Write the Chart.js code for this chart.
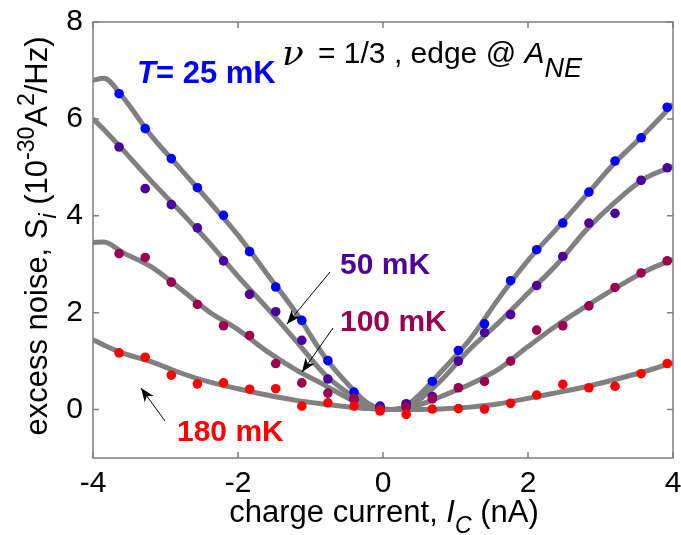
<!DOCTYPE html>
<html>
<head>
<meta charset="utf-8">
<script src="https://cdn.jsdelivr.net/npm/chart.js@4.4.1/dist/chart.umd.min.js"></script>
<style>
  html, body { margin: 0; padding: 0; background: #fff; }
</style>
</head>
<body>
<canvas id="myChart" width="681" height="535"></canvas>
<script>
// tick labels
const xTicks = [-4, -2, 0, 2, 4];
const yTicks = [0, 2, 4, 6, 8];

// measured points (charge current, nA)
const dataX = [-3.64, -3.28, -2.92, -2.56, -2.20, -1.84, -1.48, -1.12, -0.76, -0.40, -0.04,
  0.32, 0.68, 1.04, 1.40, 1.76, 2.12, 2.48, 2.84, 3.20, 3.56, 3.92];
const noise25 = [6.52, 5.80, 5.18, 4.58, 4.01, 3.26, 2.53, 1.84, 1.01, 0.36, 0.07,
  0.10, 0.58, 1.22, 1.77, 2.66, 3.30, 3.85, 4.49, 5.13, 5.61, 6.24];
const noise50 = [5.42, 4.56, 4.23, 3.75, 3.07, 2.38, 2.02, 1.43, 0.63, 0.21, 0.03,
  0.12, 0.27, 1.00, 1.59, 1.96, 2.56, 3.16, 3.85, 4.05, 4.73, 4.99];
const noise100 = [3.22, 3.14, 2.63, 2.17, 1.73, 1.53, 0.95, 0.55, 0.34, 0.23, 0.02,
  0.05, 0.22, 0.45, 0.58, 1.00, 1.64, 1.73, 2.14, 2.52, 2.82, 3.07];
const noise180 = [1.17, 1.08, 0.71, 0.53, 0.55, 0.42, 0.43, 0.07, 0.14, 0.07, -0.03,
  -0.10, 0.01, 0.02, 0.01, 0.13, 0.30, 0.52, 0.45, 0.48, 0.74, 0.95];

// fitted curves (grey lines)
const fitX = [-4, -3.85, -3.6, -3.2, -2.8, -2.4, -2.0, -1.6, -1.2, -0.8, -0.5, -0.2,
  0.1, 0.3, 0.5, 0.8, 1.2, 1.6, 2.0, 2.4, 2.8, 3.2, 3.6, 4.0];
const fit25 = [6.80, 6.84, 6.47, 5.66, 4.98, 4.30, 3.60, 2.80, 2.00, 1.08, 0.55, 0.12,
  0.0, 0.06, 0.30, 0.78, 1.45, 2.30, 3.08, 3.74, 4.42, 5.10, 5.68, 6.30];
const fit50 = [6.00, 5.78, 5.38, 4.72, 4.10, 3.45, 2.75, 2.10, 1.42, 0.72, 0.36, 0.08,
  0.0, 0.04, 0.20, 0.60, 1.25, 1.80, 2.40, 3.00, 3.70, 4.28, 4.76, 5.02];
const fit100 = [3.45, 3.46, 3.25, 2.95, 2.50, 2.02, 1.65, 1.20, 0.82, 0.50, 0.25, 0.04,
  0.0, 0.03, 0.10, 0.27, 0.52, 0.84, 1.30, 1.74, 2.13, 2.50, 2.84, 3.10];
const fit180 = [1.44, 1.33, 1.17, 0.99, 0.76, 0.57, 0.43, 0.30, 0.19, 0.11, 0.06, 0.02,
  0.0, 0.0, 0.0, 0.01, 0.05, 0.12, 0.23, 0.35, 0.47, 0.62, 0.78, 0.97];

const FONT = "'Liberation Sans', Arial, sans-serif";
const BLUE = '#0000ff', PURPLE = '#4d0099', MAROON = '#99004d', RED = '#ff0000';

function pts(xs, ys) {
  return xs.map((v, i) => ({ x: v, y: ys[i] }));
}

function fitSet(ys) {
  return {
    type: 'line', data: pts(fitX, ys), borderColor: '#808080', borderWidth: 5,
    pointRadius: 0, cubicInterpolationMode: 'monotone', fill: false, order: 10
  };
}

function dotSet(ys, color, order) {
  return {
    type: 'scatter', data: pts(dataX, ys), backgroundColor: color, borderWidth: 0,
    pointRadius: 4.8, order: order
  };
}

// draws a row of text pieces one after another
function textRun(ctx, x, y, parts) {
  parts.forEach(p => {
    ctx.font = p.font;
    ctx.fillStyle = p.color || '#000';
    ctx.fillText(p.t, x, y + (p.dy || 0));
    x += ctx.measureText(p.t).width;
  });
}

function runWidth(ctx, parts) {
  let w = 0;
  parts.forEach(p => { ctx.font = p.font; w += ctx.measureText(p.t).width; });
  return w;
}

function arrow(ctx, x1, y1, x2, y2) {
  const ang = Math.atan2(y2 - y1, x2 - x1);
  ctx.strokeStyle = '#000';
  ctx.fillStyle = '#000';
  ctx.lineWidth = 1;
  ctx.beginPath();
  ctx.moveTo(x1, y1);
  ctx.lineTo(x2, y2);
  ctx.stroke();
  ctx.save();
  ctx.translate(x2, y2);
  ctx.rotate(ang);
  ctx.beginPath();
  ctx.moveTo(0, 0);
  ctx.lineTo(-14, -5.5);
  ctx.lineTo(-10, 0);
  ctx.lineTo(-14, 5.5);
  ctx.closePath();
  ctx.fill();
  ctx.restore();
}

const framePlugin = {
  id: 'frame',
  beforeDatasetsDraw(chart) {
    const { ctx, chartArea: a, scales: { x, y } } = chart;
    ctx.save();
    ctx.strokeStyle = '#7f7f7f';
    ctx.lineWidth = 1.5;
    ctx.strokeRect(a.left, a.top, a.right - a.left, a.bottom - a.top);
    ctx.beginPath();
    xTicks.forEach(v => {
      const px = x.getPixelForValue(v);
      ctx.moveTo(px, a.bottom); ctx.lineTo(px, a.bottom - 6);
      ctx.moveTo(px, a.top); ctx.lineTo(px, a.top + 6);
    });
    yTicks.forEach(v => {
      const py = y.getPixelForValue(v);
      ctx.moveTo(a.left, py); ctx.lineTo(a.left + 6, py);
      ctx.moveTo(a.right, py); ctx.lineTo(a.right - 6, py);
    });
    ctx.stroke();
    ctx.restore();
  },
  afterDraw(chart) {
    const ctx = chart.ctx;
    ctx.save();
    ctx.textBaseline = 'alphabetic';
    ctx.textAlign = 'left';

    // header texts
    textRun(ctx, 137, 83, [
      { t: 'T', font: 'italic bold 31px ' + FONT, color: BLUE },
      { t: '= 25 mK', font: 'bold 31px ' + FONT, color: BLUE }
    ]);
    textRun(ctx, 282, 65, [{ t: 'ν', font: "italic 36px 'DejaVu Serif', serif" }]);
    textRun(ctx, 318, 63, [
      { t: '= 1/3 , edge @ ', font: '30px ' + FONT },
      { t: 'A', font: 'italic 30px ' + FONT },
      { t: 'NE', font: 'italic 27px ' + FONT, dy: 14 }
    ]);

    // temperature labels
    textRun(ctx, 340, 274, [{ t: '50 mK', font: 'bold 30px ' + FONT, color: PURPLE }]);
    textRun(ctx, 340, 331, [{ t: '100 mK', font: 'bold 30px ' + FONT, color: MAROON }]);
    textRun(ctx, 177, 441, [{ t: '180 mK', font: 'bold 30px ' + FONT, color: RED }]);

    arrow(ctx, 330, 272, 287, 324);
    arrow(ctx, 333, 328, 302, 372);
    arrow(ctx, 165, 421, 141, 388);

    // x axis title
    const xParts = [
      { t: 'charge current, ', font: '31px ' + FONT },
      { t: 'I', font: 'italic 31px ' + FONT },
      { t: 'C', font: 'italic 23px ' + FONT, dy: 11 },
      { t: ' (nA)', font: '31px ' + FONT }
    ];
    const xw = runWidth(ctx, xParts);
    textRun(ctx, 384 - xw / 2, 522, xParts);

    // y axis title
    const yParts = [
      { t: 'excess noise, S', font: '31px ' + FONT },
      { t: 'i', font: 'italic 23px ' + FONT, dy: 9 },
      { t: ' (10', font: '31px ' + FONT },
      { t: '-30', font: '23px ' + FONT, dy: -13 },
      { t: 'A', font: '31px ' + FONT },
      { t: '2', font: '23px ' + FONT, dy: -13 },
      { t: '/Hz)', font: '31px ' + FONT }
    ];
    const yw = runWidth(ctx, yParts);
    ctx.translate(47, 236);
    ctx.rotate(-Math.PI / 2);
    textRun(ctx, -yw / 2, 0, yParts);
    ctx.restore();
  }
};

const ctx = document.getElementById('myChart');
new Chart(ctx, {
  type: 'scatter',
  data: {
    datasets: [
      dotSet(noise180, RED, 0),
      dotSet(noise100, MAROON, 1),
      dotSet(noise50, PURPLE, 2),
      dotSet(noise25, BLUE, 3),
      fitSet(fit25),
      fitSet(fit50),
      fitSet(fit100),
      fitSet(fit180)
    ]
  },
  options: {
    responsive: false,
    animation: false,
    layout: { padding: { left: 0, right: 8, top: 22, bottom: 0 } },
    plugins: { legend: { display: false }, tooltip: { enabled: false } },
    scales: {
      x: {
        type: 'linear', min: -4, max: 4,
        afterBuildTicks: s => { s.ticks = xTicks.map(v => ({ value: v })); },
        afterFit: s => { s.height = 77; s.paddingLeft = 0; s.paddingRight = 0; },
        grid: { display: false, drawTicks: false },
        border: { display: false },
        ticks: { color: '#000', padding: 8, maxRotation: 0, font: { family: FONT, size: 30 } }
      },
      y: {
        type: 'linear', min: -1, max: 8,
        afterBuildTicks: s => { s.ticks = yTicks.map(v => ({ value: v })); },
        afterFit: s => { s.width = 93; s.paddingTop = 0; s.paddingBottom = 0; },
        grid: { display: false, drawTicks: false },
        border: { display: false },
        ticks: { color: '#000', padding: 10, font: { family: FONT, size: 30 } }
      }
    }
  },
  plugins: [framePlugin]
});
</script>
</body>
</html>
